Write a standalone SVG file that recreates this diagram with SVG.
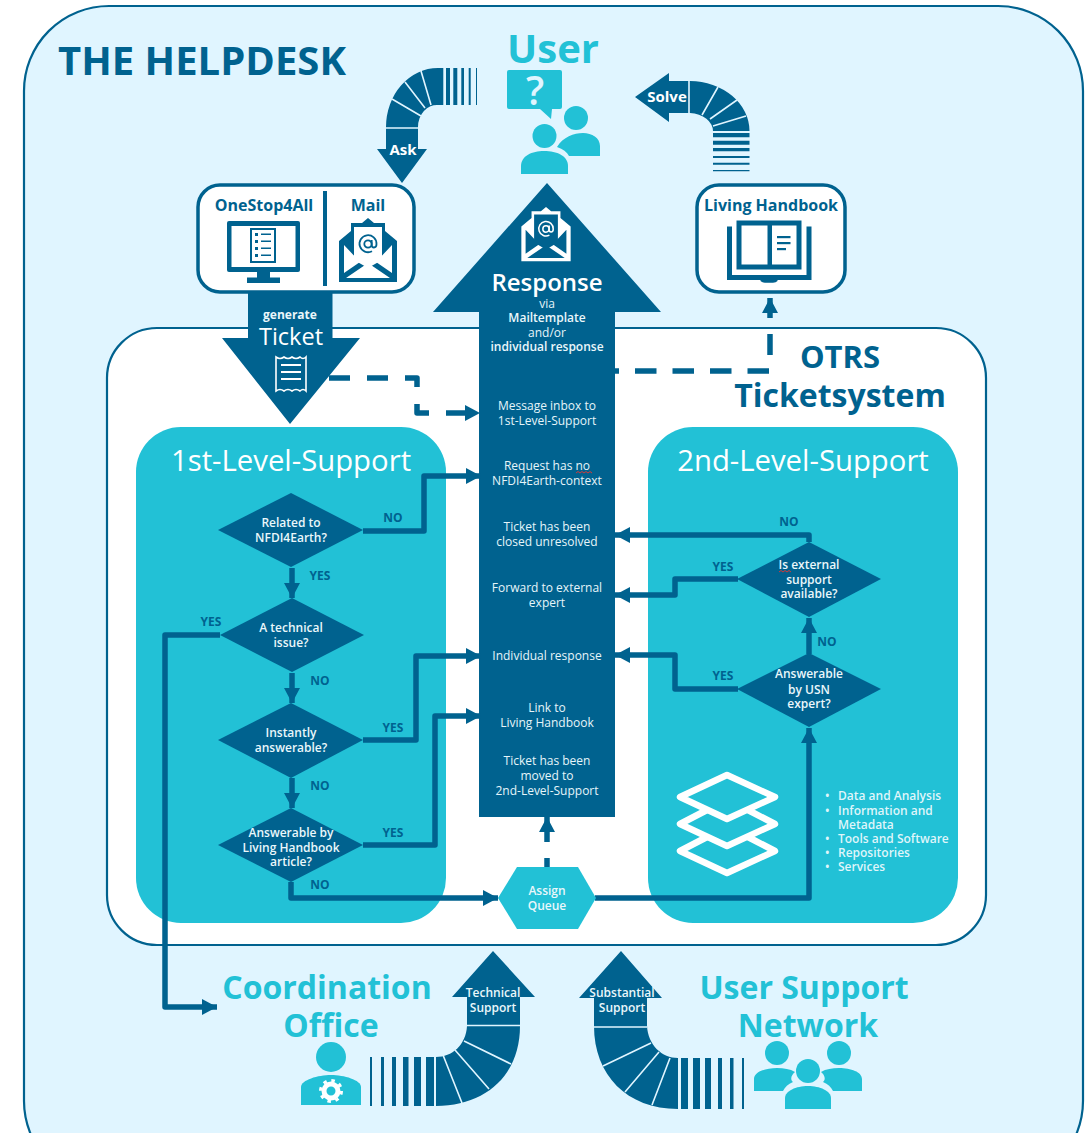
<svg xmlns="http://www.w3.org/2000/svg" width="1091" height="1133" viewBox="0 0 1091 1133">
<style>
text{font-family:"Open Sans","Liberation Sans",sans-serif;text-anchor:middle}
.d{fill:#00628f}.t{fill:#22c1d6}.w{fill:#fff}
.h{font-weight:700;fill:#00628f}
.ht{font-weight:700;fill:#22c1d6}
.lv{font-size:29.300px;fill:#fff}
.m{font-size:12px;fill:#e6f5fa}
.q{font-size:12px;font-weight:600;fill:#eaf7fb}
.l{font-size:12px;font-weight:700;fill:#00628f}
.b{font-size:16px;font-weight:700;fill:#00628f}
.li{font-size:12px;font-weight:600;fill:#dff5fa;text-anchor:start}
.c{fill:none;stroke:#00628f;stroke-width:5.500;stroke-linejoin:round}
.sep{fill:none;stroke:#e0f5ff;stroke-width:1.600}
.box{fill:#fff;stroke:#00628f;stroke-width:3.500}
.sq{fill:none;stroke:#d03a3a;stroke-width:1}
.at{fill:none;stroke-width:1.800}
</style>
<defs>
<marker id="a" markerUnits="userSpaceOnUse" markerWidth="18" markerHeight="18" refX="15" refY="8.500" orient="auto"><path d="M0,0.500L15,8.500L0,16.500Z" fill="#00628f"/></marker>
<g id="mail">
<path d="M-29,-13L-17,-23V-31H-6L0,-36L6,-31H17V-23L29,-13V28H-29Z" class="d"/>
<path d="M-14,-27H14V6L0,14L-14,6Z" class="w"/>
<path d="M-24,-9V19L-8,8ZM24,-9V19L8,8ZM-22,24L0,9L22,24Z" class="w"/>
<circle cx="0" cy="-10" r="3.700" class="at" stroke="#00628f"/>
<path d="M3.700,-14V-9Q3.700,-6.500 6,-6.500Q8.500,-6.500 8.500,-10A8.500,8.500 0 1 0 4,-2.800" class="at" stroke="#00628f"/>
</g>
<g id="mail-inv">
<path d="M-29,-13L-17,-23V-31H-6L0,-36L6,-31H17V-23L29,-13V28H-29Z" class="w"/>
<path d="M-14,-27H14V6L0,14L-14,6Z" class="d"/>
<path d="M-24,-9V19L-8,8ZM24,-9V19L8,8ZM-22,24L0,9L22,24Z" class="d"/>
<circle cx="0" cy="-10" r="3.700" class="at" stroke="#fff"/>
<path d="M3.700,-14V-9Q3.700,-6.500 6,-6.500Q8.500,-6.500 8.500,-10A8.500,8.500 0 1 0 4,-2.800" class="at" stroke="#fff"/>
</g>
</defs>

<g id="helpdesk-frame">
<rect x="24" y="6" width="1059" height="1180" rx="85" fill="#e0f5ff" stroke="#00628f" stroke-width="2.200"/>
<text x="202" y="75" font-size="40" class="h">THE HELPDESK</text>
</g>

<g id="otrs-frame">
<rect x="107" y="328" width="879" height="617" rx="50" fill="#fff" stroke="#00628f" stroke-width="2.200"/>
<text x="840" y="368" font-size="31" class="h">OTRS</text>
<text x="840" y="407" font-size="32" class="h">Ticketsystem</text>
</g>

<g id="first-level">
<rect x="136" y="427" width="310" height="496" rx="45" class="t"/>
<text x="291" y="471" class="lv">1st-Level-Support</text>
</g>
<g id="second-level">
<rect x="648" y="427" width="310" height="496" rx="45" class="t"/>
<text x="803" y="471" class="lv">2nd-Level-Support</text>
<g fill="none" stroke="#fff" stroke-width="6.500" stroke-linejoin="round">
<path d="M727,775L775,797L727,819L680,797Z"/>
<path d="M707,810L680,824L727,846L775,824L748,810"/>
<path d="M707,837L680,851L727,873L775,851L748,837"/>
</g>
<text x="838" y="800" class="li">Data and Analysis</text>
<text x="838" y="815" class="li">Information and</text>
<text x="838" y="829" class="li">Metadata</text>
<text x="838" y="843" class="li">Tools and Software</text>
<text x="838" y="857" class="li">Repositories</text>
<text x="838" y="871" class="li">Services</text>
<text x="825" y="800" class="li">•</text>
<text x="825" y="815" class="li">•</text>
<text x="825" y="843" class="li">•</text>
<text x="825" y="857" class="li">•</text>
<text x="825" y="871" class="li">•</text>
</g>

<g id="user">
<text x="553" y="63" font-size="40" class="ht">User</text>
<path d="M509,70H560Q562,70 562,72V107Q562,109 560,109H552L551,119L540,109H509Q507,109 507,107V72Q507,70 509,70Z" class="t"/>
<text x="535" y="105" font-size="40" font-weight="600" fill="#e0f5ff">?</text>
<circle cx="576" cy="118" r="12" class="t"/>
<path d="M557,147C563,137 574,133 583,133C592,133 600,138 600,146V156H569C567,152 563,149 557,147Z" class="t"/>
<circle cx="544.500" cy="136" r="12" class="t"/>
<path d="M521,174V166C521,156 532,151 544,151C557,151 568,156 568,166V174Z" class="t"/>
</g>

<g id="ask-arrow">
<path d="M438,68A52,59 0 0 0 386,127V149H377L402,183L427,149H418V127A19,22 0 0 1 438,105Z" class="d"/>
<path d="M438,68H443.300V105H438ZM446,68H450V105H446ZM453.300,68H457.300V105H453.300ZM461.300,68H464V105H461.300ZM468.700,68H470.700V105H468.700ZM476,68H477V105H476Z" class="d"/>
<path d="M421,71L431,105M405,82L425,108M392,99L421,116M386,128H418" class="sep"/>
<text x="403" y="155" font-size="15" font-weight="700" fill="#fff">Ask</text>
</g>

<g id="solve-arrow">
<path d="M635,97L669,73V81H690A60,50 0 0 1 749.500,131H713A25,18 0 0 0 690,113H669V122Z" class="d"/>
<path d="M713,133H749.500V137.300H713ZM713,140.700H749.500V144.700H713ZM713,148H749.500V151.300H713ZM713,156H749.500V158H713ZM713,162.700H749.500V164.700H713ZM713,170H749.500V171.300H713Z" class="d"/>
<path d="M689,81V113M702,115L718,87M710,119L737,100M713,126L746,116" class="sep"/>
<text x="667" y="102" font-size="15" font-weight="700" fill="#fff">Solve</text>
</g>

<g id="source-box">
<rect x="198" y="185" width="216" height="107" rx="22" class="box"/>
<rect x="323" y="191" width="4" height="95" class="d"/>
<text x="264" y="211" class="b">OneStop4All</text>
<text x="368" y="211" class="b">Mail</text>
<rect x="227" y="221" width="73" height="51" rx="2" class="d"/>
<rect x="231.500" y="226" width="64" height="41" class="w"/>
<rect x="257" y="272" width="13" height="6" class="d"/>
<rect x="247" y="277.500" width="33" height="5.500" class="d"/>
<rect x="250" y="228" width="26" height="35" class="d"/>
<rect x="252" y="230" width="22" height="31" class="w"/>
<path d="M255,233h3v3h-3zM261,233.500h10v1.500h-10zM255,240h3v3h-3zM261,240.500h10v1.500h-10zM255,247h3v3h-3zM261,247.500h10v1.500h-10zM255,254h3v3h-3zM261,254.500h10v1.500h-10z" class="d"/>
<use href="#mail" x="368" y="254"/>
</g>

<g id="handbook-box">
<rect x="697" y="185" width="148" height="107" rx="22" class="box"/>
<text x="771" y="211" class="b">Living Handbook</text>
<path d="M729.500,226.500V277.500H809V226.500" fill="none" stroke="#00628f" stroke-width="5"/>
<path d="M760.500,279H777.500V281Q776,282.700 773,282.700H765Q762,282.700 760.500,281Z" class="d"/>
<rect x="739" y="223" width="60" height="44" fill="#fff" stroke="#00628f" stroke-width="5"/>
<rect x="767.500" y="223" width="4.500" height="44" class="d"/>
<rect x="777" y="236" width="13.500" height="2.200" class="d"/>
<rect x="777" y="242" width="13.500" height="2.200" class="d"/>
<rect x="777" y="248" width="9" height="2.200" class="d"/>
</g>

<g id="ticket-arrow">
<path d="M248,292H332.500V338H360L290,424L222,338H248Z" class="d"/>
<text x="290" y="319" font-size="12" font-weight="700" fill="#eaf7fb">generate</text>
<text x="291" y="345" font-size="23.500" fill="#fff">Ticket</text>
<path d="M276,357Q280,360 284,357Q288,360 292,357Q296,360 300,357Q303,360 306,357V391Q303,388 300,391Q296,388 292,391Q288,388 284,391Q280,388 276,391Z" fill="none" stroke="#fff" stroke-width="1.600"/>
<path d="M281,365H301M281,372H301M281,379H301" stroke="#fff" stroke-width="1.800" fill="none"/>
</g>

<g id="response-arrow">
<path d="M547,183L661,312H615V817H479V312H433Z" class="d"/>
<use href="#mail-inv" transform="translate(546,237.500) scale(0.85)"/>
<text x="547" y="291" font-size="24" font-weight="600" fill="#fff">Response</text>
<text x="547" y="308" class="m">via</text>
<text x="547" y="322" class="q">Mailtemplate</text>
<text x="547" y="337" class="m">and/or</text>
<text x="547" y="351" class="q">individual response</text>
<text x="547" y="410" class="m">Message inbox to</text>
<text x="547" y="425" class="m">1st-Level-Support</text>
<text x="547" y="470" class="m">Request has no</text>
<path d="M576,473l2,-1.500l2,1.500l2,-1.500l2,1.500l2,-1.500l2,1.500l2,-1.500l2,1.500" class="sq"/>
<text x="547" y="485" class="m">NFDI4Earth-context</text>
<text x="547" y="531" class="m">Ticket has been</text>
<text x="547" y="546" class="m">closed unresolved</text>
<text x="547" y="592" class="m">Forward to external</text>
<text x="547" y="607" class="m">expert</text>
<text x="547" y="660" class="m">Individual response</text>
<text x="547" y="712" class="m">Link to</text>
<text x="547" y="727" class="m">Living Handbook</text>
<text x="547" y="765" class="m">Ticket has been</text>
<text x="547" y="780" class="m">moved to</text>
<text x="547" y="795" class="m">2nd-Level-Support</text>
</g>

<g id="connectors">
<path d="M363,531H424V476H481" class="c" marker-end="url(#a)"/>
<path d="M363,740H416V656H481" class="c" marker-end="url(#a)"/>
<path d="M363,845H435V716H481" class="c" marker-end="url(#a)"/>
<path d="M291,882V898H498" class="c" marker-end="url(#a)"/>
<path d="M220,635H165V1007H217" class="c" marker-end="url(#a)"/>
<path d="M292,568V598" class="c" marker-end="url(#a)"/>
<path d="M292,673V703" class="c" marker-end="url(#a)"/>
<path d="M292,778V808" class="c" marker-end="url(#a)"/>
<path d="M809,542V535H615" class="c" marker-end="url(#a)"/>
<path d="M738,579H675V595H615" class="c" marker-end="url(#a)"/>
<path d="M738,689H675V655H615" class="c" marker-end="url(#a)"/>
<path d="M809,654V618" class="c" marker-end="url(#a)"/>
<path d="M595,898H809V728" class="c" marker-end="url(#a)"/>
<path d="M547,858V868" class="c"/>
<path d="M547,842V817" class="c" marker-end="url(#a)"/>
<path d="M329,378H417V413H480" class="c" stroke-dasharray="21 17" marker-end="url(#a)"/>
<path d="M769,371H615" class="c" stroke-dasharray="21.500 16"/>
<path d="M770,334V355" class="c"/>
<path d="M770,318V298" class="c" marker-end="url(#a)"/>
</g>

<g id="d-related"><path d="M218,530L291,493L363,530L291,567Z" class="d"/><text x="291" y="527" class="q">Related to</text><text x="291" y="542" class="q">NFDI4Earth?</text></g>
<g id="d-technical"><path d="M220,635L292,598L364,635L292,672Z" class="d"/><text x="291" y="632" class="q">A technical</text><text x="291" y="647" class="q">issue?</text></g>
<g id="d-instant"><path d="M218,740L291,703L363,740L291,778Z" class="d"/><text x="291" y="737" class="q">Instantly</text><text x="291" y="752" class="q">answerable?</text></g>
<g id="d-handbook"><path d="M218,845L291,808L363,845L291,882Z" class="d"/><text x="291" y="837" class="q">Answerable by</text><text x="291" y="852" class="q">Living Handbook</text><text x="291" y="866" class="q">article?</text></g>
<g id="d-external"><path d="M737,579L809,542L881,579L809,617Z" class="d"/><text x="809" y="569" class="q">Is external</text><text x="809" y="584" class="q">support</text><text x="809" y="598" class="q">available?</text><path d="M779,572l2,-1.500l2,1.500l2,-1.500l2,1.500l2,-1.500l2,1.500" class="sq"/></g>
<g id="d-usn"><path d="M737,689L809,653L881,689L809,727Z" class="d"/><text x="809" y="678" class="q">Answerable</text><text x="809" y="694" class="q">by USN</text><text x="809" y="708" class="q">expert?</text></g>

<g id="assign-queue">
<path d="M498,898L517,867L578,867L596,898L578,929L517,929Z" class="t"/>
<text x="547" y="895" class="q">Assign</text><text x="547" y="910" class="q">Queue</text>
</g>

<g id="edge-labels">
<text x="393" y="522" class="l">NO</text>
<text x="320" y="580" class="l">YES</text>
<text x="211" y="626" class="l">YES</text>
<text x="320" y="685" class="l">NO</text>
<text x="393" y="732" class="l">YES</text>
<text x="320" y="790" class="l">NO</text>
<text x="393" y="837" class="l">YES</text>
<text x="320" y="889" class="l">NO</text>
<text x="789" y="526" class="l">NO</text>
<text x="723" y="571" class="l">YES</text>
<text x="827" y="646" class="l">NO</text>
<text x="723" y="680" class="l">YES</text>
</g>

<g id="coordination-office">
<text x="327" y="999" font-size="32" class="ht">Coordination</text>
<text x="331" y="1037" font-size="32" class="ht">Office</text>
<circle cx="331" cy="1057" r="15" class="t"/>
<path d="M301,1105V1087C301,1080 318,1075 331,1075C344,1075 361,1080 361,1087V1105Z" class="t"/>
<circle cx="331" cy="1091" r="7" fill="none" stroke="#fff" stroke-width="5"/>
<circle cx="331" cy="1091" r="10.500" fill="none" stroke="#fff" stroke-width="3" stroke-dasharray="3.500 4.750"/>
</g>
<g id="technical-arrow">
<path d="M493,951L535,997H520V1026C520,1075 486,1106 436,1106V1057C452,1057 466,1045 467,1026V997H452Z" class="d"/>
<path d="M370,1057h2v49h-2zM381,1057h3v49h-3zM392,1057h4v49h-4zM403,1057h5.500v49h-5.500zM414,1057h7v49h-7zM426,1057h8v49h-8z" class="d"/>
<path d="M467,1025.500H520M443,1055L462,1103M455,1050L489,1089M464,1041L511,1064" class="sep"/>
<text x="493" y="997" font-size="12" font-weight="600" fill="#eaf7fb">Technical</text>
<text x="493" y="1012" font-size="12" font-weight="600" fill="#eaf7fb">Support</text>
</g>

<g id="user-support-network">
<text x="804" y="999" font-size="32" class="ht">User Support</text>
<text x="808" y="1037" font-size="32" class="ht">Network</text>
<circle cx="777" cy="1053" r="12" class="t"/>
<circle cx="839" cy="1053" r="12" class="t"/>
<path d="M754,1091V1079C754,1072 765,1068 777,1068C784,1068 790,1069 795,1072C791,1075 790,1080 793,1082C788,1084 785,1087 783,1091Z" class="t"/>
<path d="M862,1091V1079C862,1072 851,1068 839,1068C832,1068 826,1069 821,1072C825,1075 826,1080 823,1082C828,1084 831,1087 833,1091Z" class="t"/>
<circle cx="808" cy="1071" r="12" class="t"/>
<path d="M785,1109V1098C785,1091 796,1086 808,1086C820,1086 831,1091 831,1098V1109Z" class="t"/>
</g>
<g id="substantial-arrow">
<path d="M621,951L662,998H647V1026C648,1045 662,1058 678,1058V1109C627,1109 594,1075 594,1026V998H579Z" class="d"/>
<path d="M681,1058h7v51h-7zM693,1058h7v51h-7zM705,1058h6v51h-6zM718,1058h4v51h-4zM730,1058h3.500v51h-3.500zM742,1058h2v51h-2z" class="d"/>
<path d="M594,1027H647M603,1066L651,1043M625,1092L659,1052M652,1105L670,1058" class="sep"/>
<text x="622" y="997" font-size="12" font-weight="600" fill="#eaf7fb">Substantial</text>
<text x="622" y="1012" font-size="12" font-weight="600" fill="#eaf7fb">Support</text>
</g>
</svg>
